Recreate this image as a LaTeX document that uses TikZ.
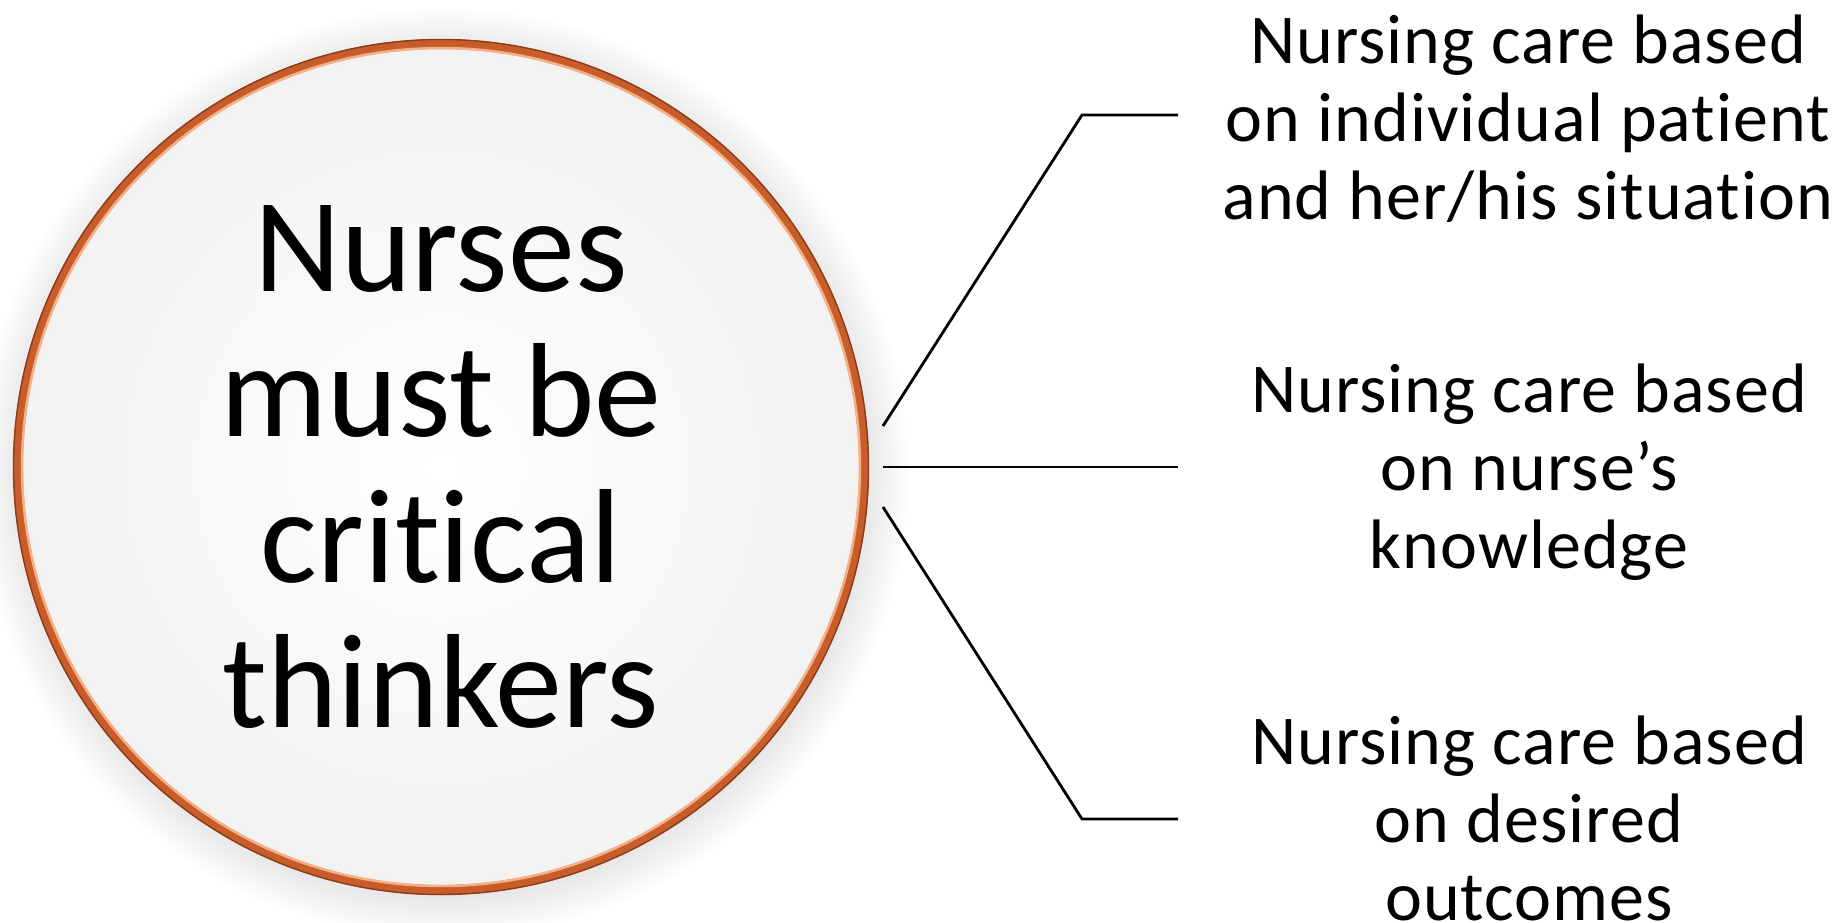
\documentclass[tikz,border=0pt]{standalone}
\usepackage{fontspec}
\setmainfont{Carlito}[Ligatures=NoCommon]
\newfontfamily\carefont{Carlito}[Ligatures=NoCommon, LetterSpace=1.5]
\usetikzlibrary{shadows}
\definecolor{ringorange}{HTML}{C75D2B}
\definecolor{ringdark}{HTML}{8E3B17}
\definecolor{ringlight}{HTML}{F6B083}
\newcommand{\CareLabel}[3]{\node[carelabel] (#1) at (#2) {#3};}

\begin{document}
\begin{tikzpicture}[
    x=0.5pt,
    y=0.5pt,
    carelabel/.style={align=center, inner sep=0pt,
      font=\carefont\fontsize{35pt}{39pt}\selectfont},
    link/.style={line width=1.4pt, black},
    ]
    \useasboundingbox (0,0) rectangle (1842,-922);

    % the ring
    \node[
    circle,
    minimum size=423pt,
    inner sep=0pt,
    draw=ringorange,
    line width=5pt,
    shading=radial,
    inner color=white,
    outer color=black!5,
    circular drop shadow={shadow xshift=1pt, shadow yshift=-2.5pt, opacity=0.3},
    align=center,
    font=\fontsize{67pt}{72.8pt}\selectfont,
    ] (circ) at (441,-467) {Nurses\\must be\\critical\\thinkers};
    \draw[ringdark, line width=0.7pt] (circ.center) circle[radius=427.5];
    \draw[ringlight, line width=1.2pt] (circ.center) circle[radius=419];

    \CareLabel{care1}{1528,-119}{Nursing care based\\on individual patient\\and her/his situation}
    \CareLabel{care2}{1529,-472}{Nursing care based\\on nurse’s\\knowledge}
    \CareLabel{care3}{1529,-818}{Nursing care based\\on desired\\outcomes}

    \coordinate (s1) at ([shift={(14,41)}]circ.east);
    \coordinate (s2) at ([shift={(14,0)}]circ.east);
    \coordinate (s3) at ([shift={(14,-40)}]circ.east);
    \coordinate (k1) at (1082,-115);
    \coordinate (k3) at (1082,-819);
    \coordinate (e1) at (1178,-115);
    \coordinate (e2) at (1178,-467);
    \coordinate (e3) at (1178,-819);

    \draw[link] (s1) -- (k1) -- (e1);
    \draw[link] (s2) -- (e2);
    \draw[link] (s3) -- (k3) -- (e3);

  \end{tikzpicture}
\end{document}
